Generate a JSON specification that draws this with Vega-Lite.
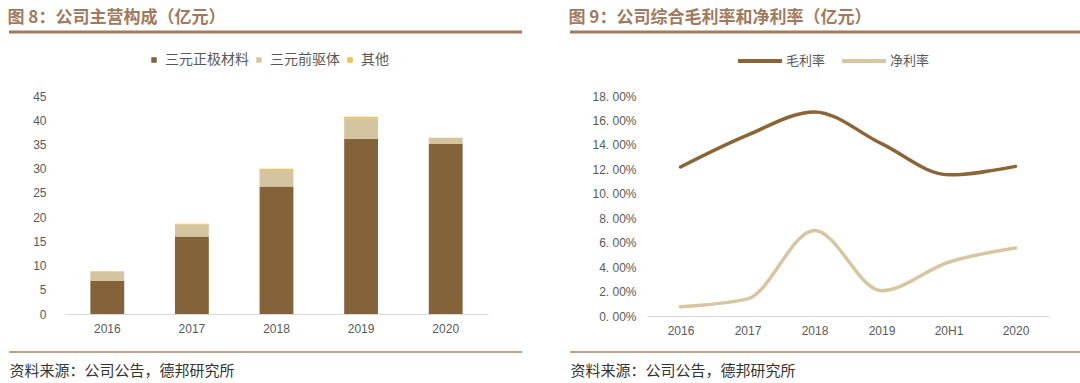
{
  "$schema": "https://vega.github.io/schema/vega-lite/v6.json",
  "padding": {"left": 7, "top": 8, "right": 0, "bottom": 0},
  "background": "white",
  "spacing": 48,
  "bounds": "flush",
  "resolve": {"scale": {"color": "independent"}, "legend": {"color": "independent"}},
  "config": {"view": {"stroke": null}, "font": "Noto Sans CJK SC"},
  "hconcat": [
    {
      "width": 513,
      "height": 320,
      "title": {"text": "图 8：公司主营构成（亿元）", "anchor": "start", "color": "#A07A5E", "fontSize": 17, "fontWeight": "bold", "font": "Noto Sans CJK SC", "offset": 4},
      "layer": [
        {
          "data": {"values": [
            {"year": "2016", "series": "三元正极材料", "k": 1, "value": 6.8},
            {"year": "2016", "series": "三元前驱体", "k": 2, "value": 2.0},
            {"year": "2016", "series": "其他", "k": 3, "value": 0.0},
            {"year": "2017", "series": "三元正极材料", "k": 1, "value": 16.0},
            {"year": "2017", "series": "三元前驱体", "k": 2, "value": 2.5},
            {"year": "2017", "series": "其他", "k": 3, "value": 0.12},
            {"year": "2018", "series": "三元正极材料", "k": 1, "value": 26.3},
            {"year": "2018", "series": "三元前驱体", "k": 2, "value": 3.45},
            {"year": "2018", "series": "其他", "k": 3, "value": 0.22},
            {"year": "2019", "series": "三元正极材料", "k": 1, "value": 36.2},
            {"year": "2019", "series": "三元前驱体", "k": 2, "value": 4.2},
            {"year": "2019", "series": "其他", "k": 3, "value": 0.3},
            {"year": "2020", "series": "三元正极材料", "k": 1, "value": 35.1},
            {"year": "2020", "series": "三元前驱体", "k": 2, "value": 1.3},
            {"year": "2020", "series": "其他", "k": 3, "value": 0.0}
          ]},
          "mark": {"type": "bar"},
          "encoding": {
            "x": {"field": "year", "type": "nominal",
              "scale": {"range": [56, 479], "paddingInner": 0.6, "paddingOuter": 0.3},
              "axis": {"title": "资料来源：公司公告，德邦研究所", "labelAngle": 0, "offset": -38, "ticks": false, "domainColor": "#D9D9D9", "labelFont": "Liberation Sans", "labelFontSize": 12, "labelColor": "#595959", "labelPadding": 9, "titleFont": "Noto Sans CJK SC", "titleFontSize": 15, "titleFontWeight": "normal", "titleColor": "#333333", "titleAnchor": "start", "titleAlign": "left", "titleX": 0, "titleY": 56, "titleBaseline": "middle"}},
            "y": {"field": "value", "type": "quantitative", "stack": "zero",
              "scale": {"domain": [0, 45], "range": [282, 64], "nice": false},
              "axis": {"title": null, "values": [0, 5, 10, 15, 20, 25, 30, 35, 40, 45], "domain": false, "ticks": false, "grid": false, "offset": -39, "labelPadding": 2, "labelFont": "Liberation Sans", "labelFontSize": 12, "labelColor": "#595959"}},
            "color": {"field": "series", "type": "nominal",
              "scale": {"domain": ["三元正极材料", "三元前驱体", "其他"], "range": ["#84623A", "#D4C4A0", "#F0C050"]},
              "legend": {"orient": "none", "legendX": 138, "legendY": 21, "direction": "horizontal", "title": null, "symbolType": "square", "symbolSize": 30, "labelFontSize": 14, "labelColor": "#595959", "labelFont": "Noto Sans CJK SC", "columnPadding": 3, "labelOffset": 4}},
            "order": {"field": "k", "type": "quantitative"}
          }
        },
        {
          "data": {"values": [{"pos": "top"}]},
          "mark": {"type": "rule", "color": "#A37A5C", "strokeWidth": 3},
          "encoding": {"y": {"field": "pos", "type": "ordinal", "scale": {"type": "point", "padding": 0, "domain": ["top", "bottom"]}, "axis": null}}
        },
        {
          "data": {"values": [{"pos": "bottom"}]},
          "mark": {"type": "rule", "color": "#BFA08A", "strokeWidth": 2},
          "encoding": {"y": {"field": "pos", "type": "ordinal", "scale": {"type": "point", "padding": 0, "domain": ["top", "bottom"]}, "axis": null}}
        }
      ],
      "resolve": {"scale": {"y": "independent"}}
    },
    {
      "width": 512,
      "height": 320,
      "title": {"text": "图 9：公司综合毛利率和净利率（亿元）", "anchor": "start", "color": "#A07A5E", "fontSize": 17, "fontWeight": "bold", "font": "Noto Sans CJK SC", "offset": 4},
      "layer": [
        {
          "data": {"values": [
            {"period": "2016", "series": "毛利率", "value": 0.1219},
            {"period": "2017", "series": "毛利率", "value": 0.148},
            {"period": "2018", "series": "毛利率", "value": 0.167},
            {"period": "2019", "series": "毛利率", "value": 0.141},
            {"period": "20H1", "series": "毛利率", "value": 0.1155},
            {"period": "2020", "series": "毛利率", "value": 0.1224},
            {"period": "2016", "series": "净利率", "value": 0.0076},
            {"period": "2017", "series": "净利率", "value": 0.014},
            {"period": "2018", "series": "净利率", "value": 0.07},
            {"period": "2019", "series": "净利率", "value": 0.0207},
            {"period": "20H1", "series": "净利率", "value": 0.044},
            {"period": "2020", "series": "净利率", "value": 0.0557}
          ]},
          "mark": {"type": "line", "strokeWidth": 3.5, "interpolate": "monotone", "strokeCap": "round"},
          "encoding": {
            "x": {"field": "period", "type": "ordinal", "sort": ["2016", "2017", "2018", "2019", "20H1", "2020"],
              "scale": {"type": "point", "range": [77, 479], "padding": 0.5},
              "axis": {"title": "资料来源：公司公告，德邦研究所", "labelAngle": 0, "offset": -36, "ticks": false, "domainColor": "#D9D9D9", "labelFont": "Liberation Sans", "labelFontSize": 12, "labelColor": "#595959", "labelPadding": 9, "titleFont": "Noto Sans CJK SC", "titleFontSize": 15, "titleFontWeight": "normal", "titleColor": "#333333", "titleAnchor": "start", "titleAlign": "left", "titleX": 0, "titleY": 54, "titleBaseline": "middle"}},
            "y": {"field": "value", "type": "quantitative",
              "scale": {"domain": [0, 0.18], "range": [284, 64], "nice": false},
              "axis": {"title": null, "values": [0, 0.02, 0.04, 0.06, 0.08, 0.10, 0.12, 0.14, 0.16, 0.18], "labelExpr": "replace(format(datum.value, '.2%'), '.', '. ')", "domain": false, "ticks": false, "grid": false, "offset": -68, "labelPadding": 2, "labelFont": "Liberation Sans", "labelFontSize": 12, "labelColor": "#595959"}},
            "color": {"field": "series", "type": "nominal",
              "scale": {"domain": ["毛利率", "净利率"], "range": ["#8A6538", "#D6C6A2"]},
              "legend": {"orient": "none", "legendX": 166, "legendY": 5, "direction": "horizontal", "title": null, "symbolType": "stroke", "symbolSize": 1936, "symbolStrokeWidth": 4, "labelFontSize": 13, "labelColor": "#595959", "labelFont": "Noto Sans CJK SC", "columnPadding": 8, "labelOffset": 2}}
          }
        },
        {
          "data": {"values": [{"pos": "top"}]},
          "mark": {"type": "rule", "color": "#A37A5C", "strokeWidth": 3},
          "encoding": {"y": {"field": "pos", "type": "ordinal", "scale": {"type": "point", "padding": 0, "domain": ["top", "bottom"]}, "axis": null}}
        },
        {
          "data": {"values": [{"pos": "bottom"}]},
          "mark": {"type": "rule", "color": "#BFA08A", "strokeWidth": 2},
          "encoding": {"y": {"field": "pos", "type": "ordinal", "scale": {"type": "point", "padding": 0, "domain": ["top", "bottom"]}, "axis": null}}
        }
      ],
      "resolve": {"scale": {"y": "independent"}}
    }
  ]
}
